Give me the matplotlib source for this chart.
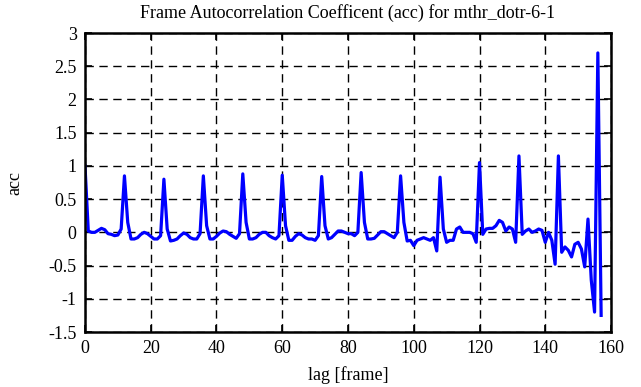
import matplotlib
matplotlib.use('Agg')
import matplotlib.pyplot as plt
import numpy as np

# autocorrelation coefficient per lag (frames 0..157)
acc = [
    1.00, 0.02, 0.00, 0.00, 0.03, 0.06, 0.04, -0.02, -0.03, -0.05, -0.04, 0.05,
    0.85, 0.15, -0.10, -0.10, -0.08, -0.03, 0.00, -0.02, -0.06, -0.10, -0.10, -0.05,
    0.80, 0.05, -0.13, -0.12, -0.10, -0.05, -0.01, -0.03, -0.08, -0.10, -0.10, -0.02,
    0.85, 0.10, -0.10, -0.10, -0.06, -0.01, 0.02, 0.01, -0.03, -0.06, -0.09, -0.02,
    0.88, 0.15, -0.10, -0.10, -0.08, -0.03, 0.00, 0.00, -0.05, -0.08, -0.10, -0.05,
    0.86, 0.10, -0.12, -0.12, -0.06, -0.02, -0.04, -0.08, -0.10, -0.10, -0.12, -0.05,
    0.84, 0.10, -0.10, -0.08, -0.03, 0.02, 0.02, 0.00, -0.02, -0.02, -0.05, 0.00,
    0.90, 0.15, -0.10, -0.10, -0.09, -0.04, 0.01, 0.01, -0.02, -0.05, -0.08, 0.00,
    0.85, 0.15, -0.13, -0.12, -0.20, -0.12, -0.10, -0.08, -0.10, -0.12, -0.08, -0.28,
    0.83, 0.05, -0.15, -0.12, -0.12, 0.05, 0.08, 0.00, 0.00, 0.00, -0.02, -0.15,
    1.05, -0.03, 0.05, 0.06, 0.06, 0.10, 0.18, 0.15, 0.02, 0.08, 0.05, -0.15,
    1.15, -0.03, 0.02, 0.05, 0.00, 0.02, 0.05, 0.03, -0.15, 0.00, -0.12, -0.48,
    1.15, -0.30, -0.22, -0.27, -0.37, -0.18, -0.15, -0.25, -0.52, 0.20, -0.72, -1.20,
    2.70, -1.25,
]
lags = np.arange(len(acc))

x_ticks = np.arange(0, 161, 20)
y_ticks = np.arange(-1.5, 3.01, 0.5)
y_labels = ['-1.5', '-1', '-0.5', '0', '0.5', '1', '1.5', '2', '2.5', '3']

plt.rcParams['font.family'] = ['Liberation Serif', 'DejaVu Serif']
plt.rcParams['font.size'] = 13

fig = plt.figure(figsize=(6.41, 3.87), dpi=100)
ax = fig.add_axes([0.1326, 0.1421, 0.8206, 0.7726])

ax.plot(lags, acc, color='#0000ff', linewidth=2.3)

ax.set_xlim(0, 160)
ax.set_ylim(-1.5, 3)
ax.set_xticks(x_ticks)
ax.set_yticks(y_ticks)
ax.set_yticklabels(y_labels)
ax.grid(True, color='black', linestyle=(0, (6, 4)), linewidth=1.0)
ax.tick_params(direction='in', top=True, right=True, length=5, width=1.2, pad=6)
for s in ax.spines.values():
    s.set_linewidth(1.8)

ax.set_xlabel('lag [frame]', labelpad=6)
ax.set_ylabel('acc', labelpad=18)
ax.set_title('Frame Autocorrelation Coefficent (acc) for mthr_dotr-6-1', fontsize=13, pad=11)

plt.savefig('out.png', dpi=100)
